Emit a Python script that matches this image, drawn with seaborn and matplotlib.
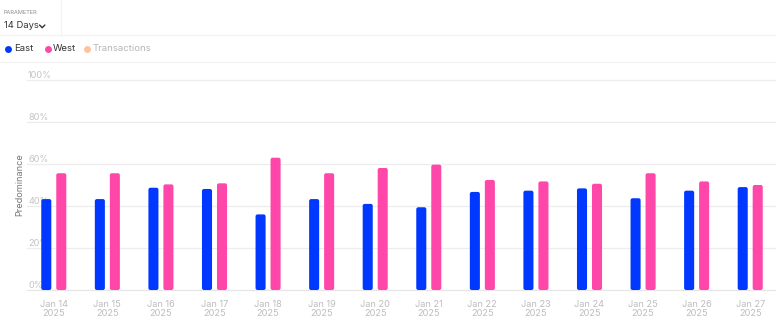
import matplotlib
matplotlib.use("Agg")
import matplotlib.pyplot as plt
from matplotlib.lines import Line2D
from matplotlib.patches import FancyBboxPatch
import seaborn as sns
import pandas as pd

# Daily predominance share (%) by region
dates = ["Jan 14", "Jan 15", "Jan 16", "Jan 17", "Jan 18", "Jan 19", "Jan 20",
         "Jan 21", "Jan 22", "Jan 23", "Jan 24", "Jan 25", "Jan 26", "Jan 27"]
year = "2025"
east = [43.3, 43.3, 48.7, 48.1, 36.0, 43.3, 41.0, 39.4, 46.7, 47.3, 48.4, 43.7, 47.3, 49.0]
west = [55.6, 55.6, 50.3, 50.8, 63.0, 55.6, 58.1, 59.7, 52.4, 51.7, 50.6, 55.6, 51.7, 50.0]
series = ["East", "West"]
y_ticks = [0, 20, 40, 60, 80, 100]

colors = {"East": "#0038FF", "West": "#FF47AA"}
trans_color = "#FFC29C"

df = pd.DataFrame({
    "date": dates * 2,
    "region": ["East"] * len(dates) + ["West"] * len(dates),
    "value": east + west,
})

sns.set_theme(style="white")
plt.rcParams["font.family"] = ["Inter", "DejaVu Sans"]

W, H = 776, 327
fig = plt.figure(figsize=(W / 100, H / 100), dpi=100)

# plot area: 0% at y=290px, 100% at y=80px
y0_px, y100_px = 290, 80
px_per_unit = (y0_px - y100_px) / 100
ymax = 101.5
ax_left, ax_right = 27, 777
ax = fig.add_axes([ax_left / W, (H - y0_px) / H,
                   (ax_right - ax_left) / W, ymax * px_per_unit / H])

sns.barplot(data=df, x="date", y="value", hue="region", hue_order=series,
            palette=colors, width=0.56, gap=0.33, saturation=1,
            legend=False, ax=ax, zorder=3)

ax.set_xlim(-0.5, len(dates) - 0.5)
ax.set_ylim(0, ymax)

# soften bar corners (~2px radius)
px_x = (ax_right - ax_left) / len(dates)
radius = 2.0 / px_x
aspect = px_x / px_per_unit
for bar in list(ax.patches):
    x, y = bar.get_x(), bar.get_y()
    w, h = bar.get_width(), bar.get_height()
    rounded = FancyBboxPatch((x, y), w, h,
                             boxstyle=f"round,pad=0,rounding_size={radius}",
                             mutation_aspect=aspect,
                             facecolor=bar.get_facecolor(), edgecolor="none",
                             zorder=3)
    bar.remove()
    ax.add_patch(rounded)

for s in ax.spines.values():
    s.set_visible(False)

# gridlines and in-plot y labels
for t in y_ticks:
    ax.axhline(t, color="#EDEDED" if t else "#E6E6E6", lw=0.9, zorder=1,
               clip_on=False)
    ax.text(0.0015, t + 2.1, f"{t}%", transform=ax.get_yaxis_transform(),
            ha="left", va="center", fontsize=6.6, color="#C4C4C4", zorder=2)
ax.set_yticks([])
ax.set_xticks(range(len(dates)))
ax.set_xticklabels([f"{d}\n{year}" for d in dates], fontsize=6.6,
                   color="#BDBDBD", linespacing=1.05)
ax.tick_params(axis="x", length=0, pad=7)
ax.set_xlabel("")
ax.set_ylabel("")
fig.text(20 / W, 1 - 185 / H, "Predominance", rotation=90, ha="center",
         va="center", fontsize=6.6, color="#777777")

# header: parameter selector
fig.text(4 / W, 1 - 12 / H, "PARAMETER", fontsize=4.0, color="#8A8A8A",
         va="center", ha="left")
fig.text(4 / W, 1 - 26 / H, "14 Days", fontsize=6.8, color="#333333",
         va="center", ha="left")
fig.add_artist(Line2D([39.5 / W, 42.2 / W, 44.9 / W],
                      [1 - 25 / H, 1 - 27.7 / H, 1 - 25 / H],
                      transform=fig.transFigure, color="#333333", lw=1.0))
fig.add_artist(Line2D([61 / W, 61 / W], [1, 1 - 35 / H],
                      transform=fig.transFigure, color="#F2F2F2", lw=0.9))
for yy in (35, 62):
    fig.add_artist(Line2D([0, 1], [1 - yy / H, 1 - yy / H],
                          transform=fig.transFigure, color="#F2F2F2", lw=0.9))

# legend
legend_items = [("East", colors["East"], "#333333", 7.5, 14.5),
                ("West", colors["West"], "#333333", 47.5, 52.5),
                ("Transactions", trans_color, "#B5B5B5", 86.5, 93)]
for label, mc, tc, dot_x, txt_x in legend_items:
    fig.add_artist(Line2D([dot_x / W], [1 - 48.5 / H], marker="o",
                          markersize=5.0, color=mc, markeredgewidth=0,
                          linestyle="none", transform=fig.transFigure))
    fig.text(txt_x / W, 1 - 48.5 / H, label, fontsize=6.9, color=tc,
             va="center", ha="left")

fig.savefig("out.png", dpi=100, facecolor="white")
